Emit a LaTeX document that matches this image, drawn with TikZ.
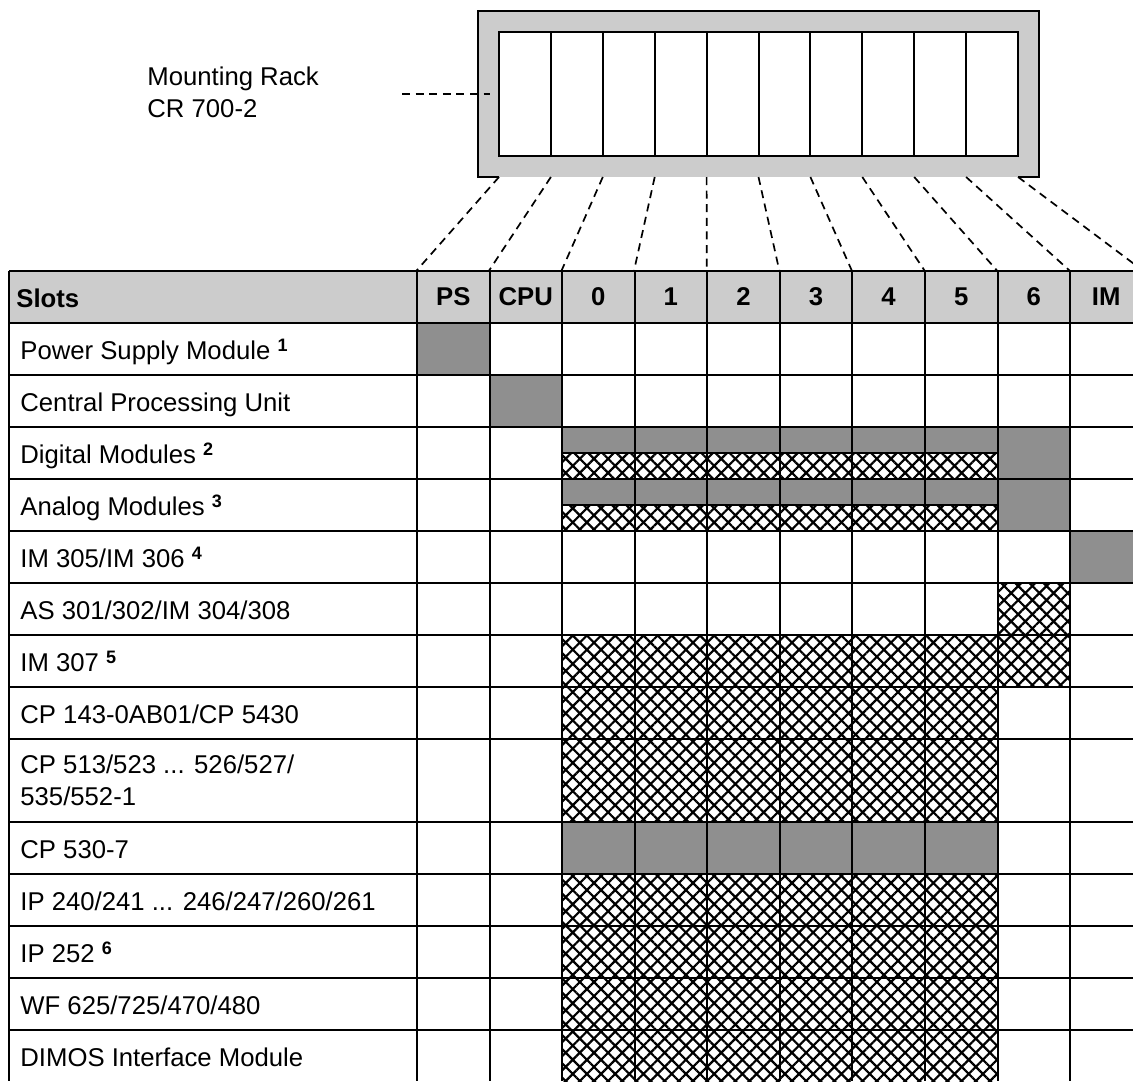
\documentclass[tikz,border=0pt]{standalone}
\usepackage{fontspec}
\setmainfont{Liberation Sans}
\usepackage{tikz}
\usetikzlibrary{patterns.meta, positioning}
\definecolor{lightdot}{gray}{0.80}
\definecolor{darkdot}{gray}{0.56}
\tikzstyle{tline}   = [draw, line width=1pt]
\tikzstyle{lead}    = [draw, line width=0.85pt, dash pattern=on 4pt off 2.8pt]
\tikzstyle{light}   = [fill=lightdot]
\tikzstyle{dark}    = [fill=darkdot]
\tikzstyle{hatch}   = [pattern={Hatch[angle=45, distance=5pt, line width=1.1pt]}]
\tikzstyle{txt}     = [anchor=base west, inner sep=0pt, font=\fontsize{12.85}{16}\selectfont]
\tikzstyle{head}    = [inner sep=0pt, minimum width=36.3pt, minimum height=26pt, font=\fontsize{12.85}{16}\selectfont\bfseries]
\tikzstyle{rackbox} = [inner sep=0pt, minimum width=280.5pt, minimum height=83pt]
\tikzstyle{slotbox} = [draw, fill=white, line width=1pt, inner sep=0pt, minimum width=259.5pt, minimum height=62pt]
\newcommand{\fnum}[1]{\raisebox{4pt}{\fontsize{9}{10}\selectfont\bfseries #1}}

\begin{document}
\begin{tikzpicture}[x=0.5pt, y=-0.5pt]
\useasboundingbox (0,0) rectangle (1133,1081);
\clip (0,0) rectangle (1133,1081);

% rack
\node [rackbox, light] at (758.5, 94) (rack)  {};
\draw [line width=1pt] ([xshift=10.5pt]rack.south west) -- (rack.south west) -- (rack.north west)
  -- (rack.north east) -- (rack.south east) -- ([xshift=-10.5pt]rack.south east);
\node [slotbox]        at (758.5, 94) (inner) {};
\draw [line width=1pt] (550.9,32) -- (550.9,156)  (602.8,32) -- (602.8,156)  (654.7,32) -- (654.7,156)
  (706.6,32) -- (706.6,156)  (758.5,32) -- (758.5,156)  (810.4,32) -- (810.4,156)
  (862.3,32) -- (862.3,156)  (914.2,32) -- (914.2,156)  (966.1,32) -- (966.1,156);

\node [txt, align=left] at (147, 118) (mr) {Mounting Rack\\CR 700-2};
\coordinate (lb) at (402, 94);

% slot points on the rack
\coordinate (s0)  at (499.0, 177);
\coordinate (s1)  at (550.9, 177);
\coordinate (s2)  at (602.8, 177);
\coordinate (s3)  at (654.7, 177);
\coordinate (s4)  at (706.6, 177);
\coordinate (s5)  at (758.5, 177);
\coordinate (s6)  at (810.4, 177);
\coordinate (s7)  at (862.3, 177);
\coordinate (s8)  at (914.2, 177);
\coordinate (s9)  at (966.1, 177);
\coordinate (s10) at (1018.0, 177);

% shading
\fill [light] (9,271) rectangle (1142.5,323);
\fill [dark]  (417,323)   rectangle (489.5,375);
\fill [dark]  (489.5,375) rectangle (562,427);
\fill [dark]  (562,427)   rectangle (997.5,453);
\fill [hatch] (562,453)   rectangle (997.5,479);
\fill [dark]  (562,479)   rectangle (997.5,505);
\fill [hatch] (562,505)   rectangle (997.5,531);
\fill [dark]  (997.5,427) rectangle (1070,531);
\fill [dark]  (1070,531)  rectangle (1142.5,583);
\fill [hatch] (997.5,583) rectangle (1070,635);
\fill [hatch] (562,635)   rectangle (1070,687);
\fill [hatch] (562,687)   rectangle (997.5,822);
\fill [dark]  (562,822)   rectangle (997.5,874);
\fill [hatch] (562,874)   rectangle (997.5,1081);

% table lines
\path [tline]
  (9,271)  -- (1142.5,271)   (9,323)  -- (1142.5,323)   (9,375)  -- (1142.5,375)
  (9,427)  -- (1142.5,427)   (9,479)  -- (1142.5,479)   (9,531)  -- (1142.5,531)
  (9,583)  -- (1142.5,583)   (9,635)  -- (1142.5,635)   (9,687)  -- (1142.5,687)
  (9,739)  -- (1142.5,739)   (9,822)  -- (1142.5,822)   (9,874)  -- (1142.5,874)
  (9,926)  -- (1142.5,926)   (9,978)  -- (1142.5,978)   (9,1030) -- (1142.5,1030)
  (562,453) -- (997.5,453)   (562,505) -- (997.5,505)
  (9,271) -- (9,1081)        (417,271) -- (417,1081)    (489.5,271) -- (489.5,1081)
  (562,271) -- (562,1081)    (634.5,271) -- (634.5,1081) (707,271) -- (707,1081)
  (780,271) -- (780,1081)    (852,271) -- (852,1081)    (925,271) -- (925,1081)
  (997.5,271) -- (997.5,1081) (1070,271) -- (1070,1081);

% header
\node [txt, font=\fontsize{12.85}{16}\selectfont\bfseries] at (16, 307) (slots) {Slots};
\node [head] at ( 453.25, 297) (ps)  {PS};
\node [head] at ( 525.75, 297) (cpu) {CPU};
\node [head] at ( 598.25, 297) (k0)  {0};
\node [head] at ( 670.75, 297) (k1)  {1};
\node [head] at ( 743.50, 297) (k2)  {2};
\node [head] at ( 816.00, 297) (k3)  {3};
\node [head] at ( 888.50, 297) (k4)  {4};
\node [head] at ( 961.25, 297) (k5)  {5};
\node [head] at (1033.75, 297) (k6)  {6};
\node [head] at (1106.25, 297) (im)  {IM};

% rows
\node [txt] at (20,  359) (psm) {Power Supply Module \fnum{1}};
\node [txt] at (20,  411) (cpm) {Central Processing Unit};
\node [txt] at (20,  463) (dig) {Digital Modules \fnum{2}};
\node [txt] at (20,  515) (ana) {Analog Modules \fnum{3}};
\node [txt] at (20,  567) (ima) {IM 305/IM 306 \fnum{4}};
\node [txt] at (20,  619) (as)  {AS 301/302/IM 304/308};
\node [txt] at (20,  671) (imb) {IM 307 \fnum{5}};
\node [txt] at (20,  723) (cpa) {CP 143-0AB01/CP 5430};
\node [txt, align=left] at (20, 805) (cpb) {CP 513/523 ... 526/527/\\535/552-1};
\node [txt] at (20,  858) (cpc) {CP 530-7};
\node [txt] at (20,  910) (ipa) {IP 240/241 ... 246/247/260/261};
\node [txt] at (20,  962) (ipb) {IP 252 \fnum{6}};
\node [txt] at (20, 1014) (wf)  {WF 625/725/470/480};
\node [txt] at (20, 1066) (dim) {DIMOS Interface Module};

%  edges
\path [lead]
  (lb)  edge ([xshift=6pt]rack.west)
  (s0)  edge (ps.north west)
  (s1)  edge (cpu.north west)
  (s2)  edge (k0.north west)
  (s3)  edge (k1.north west)
  (s4)  edge (k2.north west)
  (s5)  edge (k3.north west)
  (s6)  edge (k4.north west)
  (s7)  edge (k5.north west)
  (s8)  edge (k6.north west)
  (s9)  edge (im.north west)
  (s10) edge (im.north east);

\end{tikzpicture}
\end{document}
